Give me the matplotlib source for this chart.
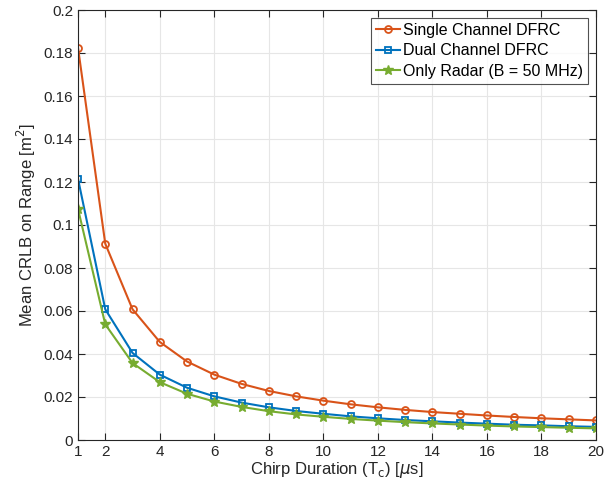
import matplotlib.pyplot as plt

plt.rcParams['font.family'] = ['Liberation Sans', 'DejaVu Sans']
plt.rcParams['mathtext.fontset'] = 'dejavusans'

# --- Data ---
chirp_us = list(range(1, 21))
single_dfrc = [0.1825, 0.0913, 0.0608, 0.0456, 0.0365, 0.0304, 0.0261, 0.0228, 0.0203, 0.0183,
               0.0166, 0.0152, 0.0140, 0.0130, 0.0122, 0.0114, 0.0107, 0.0101, 0.0096, 0.0091]
dual_dfrc = [0.1215, 0.0608, 0.0405, 0.0304, 0.0243, 0.0203, 0.0174, 0.0152, 0.0135, 0.0122,
             0.0110, 0.0101, 0.0093, 0.0087, 0.0081, 0.0076, 0.0071, 0.0068, 0.0064, 0.0061]
only_radar = [0.1075, 0.0538, 0.0358, 0.0269, 0.0215, 0.0179, 0.0154, 0.0134, 0.0119, 0.0108,
              0.0098, 0.0090, 0.0083, 0.0077, 0.0072, 0.0067, 0.0063, 0.0060, 0.0057, 0.0054]
x_ticks = [1, 2, 4, 6, 8, 10, 12, 14, 16, 18, 20]
y_ticks = [0, 0.02, 0.04, 0.06, 0.08, 0.1, 0.12, 0.14, 0.16, 0.18, 0.2]

fig = plt.figure(figsize=(6.1, 4.91), dpi=100)
ax = fig.add_axes([78 / 610, 51 / 491, 518 / 610, 430 / 491])

ax.plot(chirp_us, single_dfrc, 'o-', color='#D95319', lw=1.5, ms=5,
        mfc='none', mew=1.3, label='Single Channel DFRC')
ax.plot(chirp_us, dual_dfrc, 's-', color='#0072BD', lw=1.5, ms=4.5,
        mfc='none', mew=1.3, label='Dual Channel DFRC')
ax.plot(chirp_us, only_radar, '*-', color='#77AC30', lw=1.5, ms=7,
        label='Only Radar (B = 50 MHz)')

ax.set_xlim(1, 20)
ax.set_ylim(0, 0.2)
ax.set_xticks(x_ticks)
ax.set_yticks(y_ticks)
ax.set_yticklabels(['0', '0.02', '0.04', '0.06', '0.08', '0.1', '0.12',
                    '0.14', '0.16', '0.18', '0.2'])
ax.grid(True, color='#e6e6e6', lw=0.8)
ax.set_axisbelow(True)
for s in ax.spines.values():
    s.set_color('#262626')
    s.set_linewidth(0.8)
ax.tick_params(direction='in', length=5, colors='#262626', labelsize=11,
               top=True, right=True)

ax.set_xlabel(r'Chirp Duration (T$_\mathrm{c}$) [$\mu$s]', fontsize=12,
              color='#262626', labelpad=1)
ax.set_ylabel(r'Mean CRLB on Range [m$^2$]', fontsize=12, color='#262626')

leg = ax.legend(loc='upper right', fontsize=11.5, frameon=True, fancybox=False,
                edgecolor='#262626', handlelength=1.5, borderpad=0.3,
                labelspacing=0.35, handletextpad=0.2, borderaxespad=0.5)
leg.get_frame().set_linewidth(0.8)

fig.savefig('out.png', dpi=100)
